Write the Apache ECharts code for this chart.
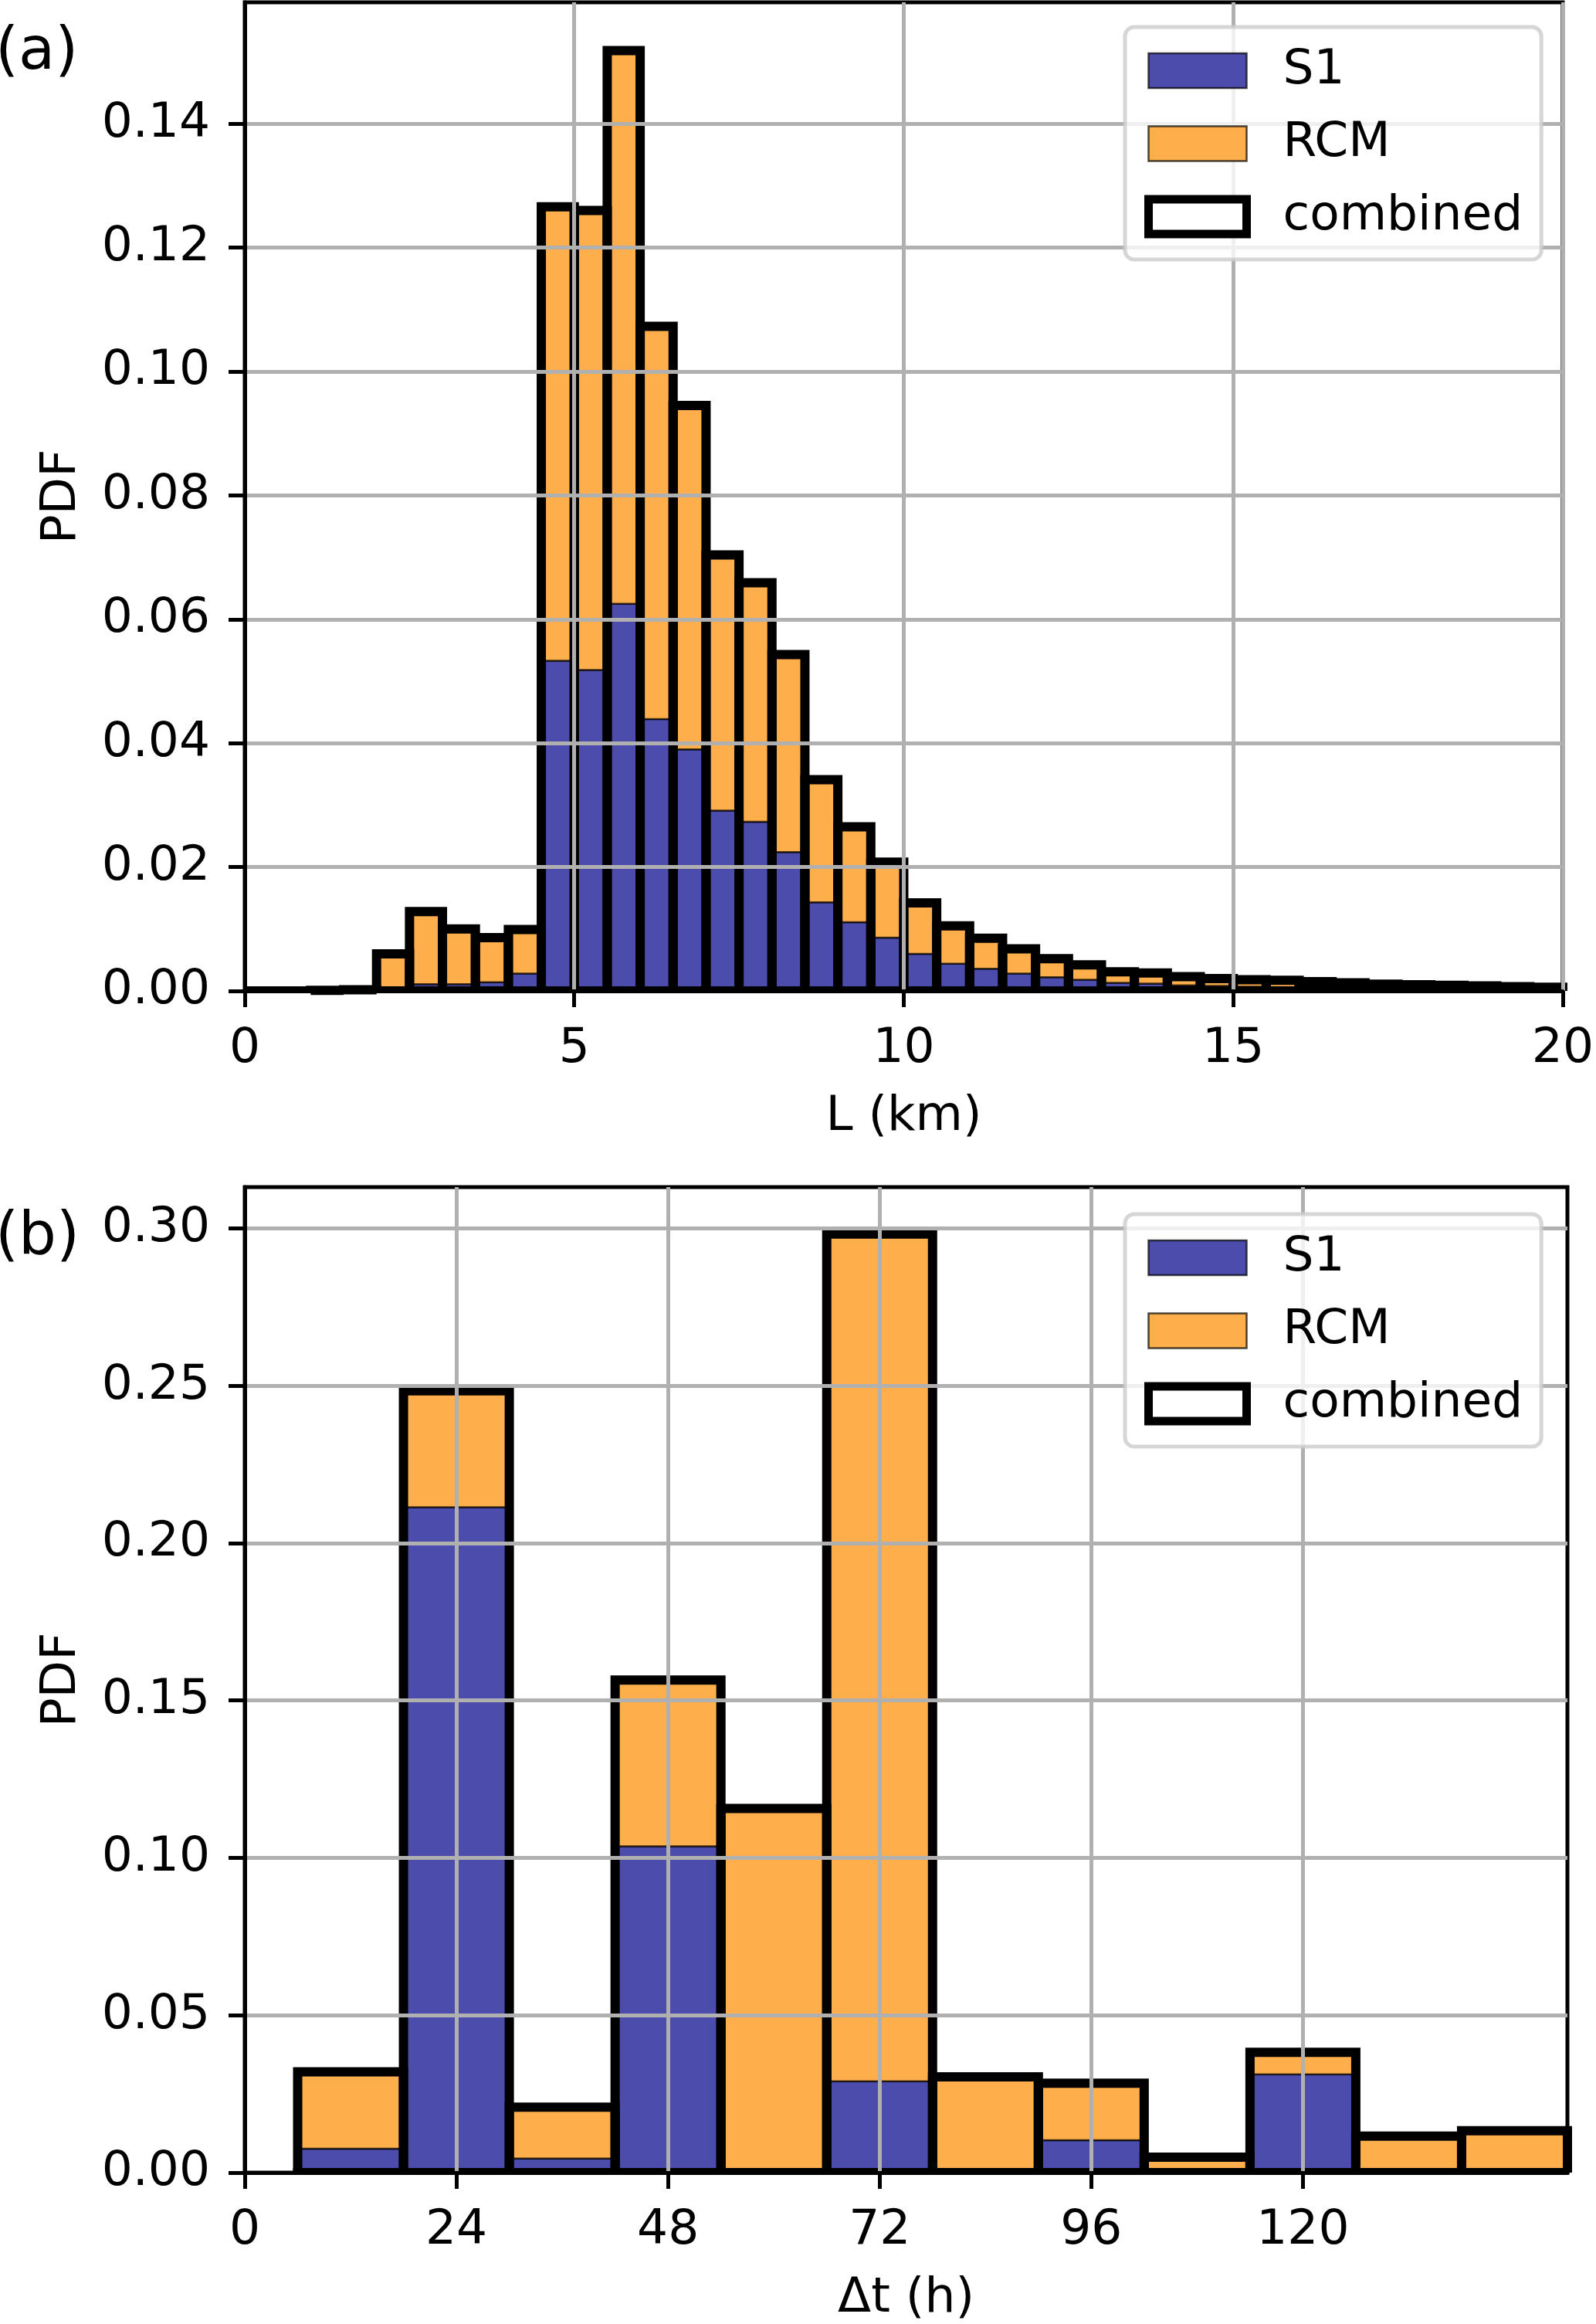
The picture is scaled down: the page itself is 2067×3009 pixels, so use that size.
<!DOCTYPE html>
<html><head><meta charset="utf-8">
<script src="https://cdn.jsdelivr.net/npm/echarts@6/dist/echarts.min.js"></script>
<style>html,body{margin:0;padding:0;background:#fff}#c{width:2067px;height:3009px}</style>
</head><body><div id="c"></div>
<script>
// ---------- Panel (a): eddy size L (km), bins 0.5 km ----------
const lenBinEdges = [0,0.5,1,1.5,2,2.5,3,3.5,4,4.5,5,5.5,6,6.5,7,7.5,8,8.5,9,9.5,10,
  10.5,11,11.5,12,12.5,13,13.5,14,14.5,15,15.5,16,16.5,17,17.5,18,18.5,19,19.5,20];
const lenS1 = [0,0,0,0,0, 0.0011,0.0011,0.0014,0.0028,
  0.0533,0.0518,0.0625,0.0439,0.0390,0.0291,0.0273,0.0224,0.0143,0.0111,0.0086,
  0.0060,0.0044,0.0036,0.0028,0.0022,0.0018,0.0013,0.0012,0.0009,0.0008,
  0.0007,0.0006,0.0006,0.0005,0.0004,0.0004,0.0003,0.0003,0.0003,0.0002];
const lenRCM = [0,0,0.0001,0.0002,0.0060, 0.0117,0.0089,0.0072,0.0071,
  0.0733,0.0742,0.0893,0.0634,0.0555,0.0413,0.0386,0.0319,0.0198,0.0154,0.0122,
  0.0082,0.0061,0.0049,0.0040,0.0030,0.0024,0.0018,0.0017,0.0014,0.0012,
  0.0011,0.0011,0.0009,0.0008,0.0007,0.0006,0.0006,0.0005,0.0004,0.0004];
const lenTicksX = [0,5,10,15,20];
const lenTicksY = [0,0.02,0.04,0.06,0.08,0.10,0.12,0.14];

// ---------- Panel (b): time separation Δt (h), bins 12 h ----------
const dtBinEdges = [6,18,30,42,54,66,78,90,102,114,126,138,150];
const dtS1  = [0.0076,0.2114,0.0045,0.1037,0,0.0290,0,0.0103,0,0.0312,0,0];
const dtRCM = [0.0244,0.0370,0.0163,0.0528,0.1157,0.2692,0.0304,0.0181,0.0049,0.0070,0.0116,0.0133];
const dtTicksX = [0,24,48,72,96,120];
const dtTicksY = [0,0.05,0.10,0.15,0.20,0.25,0.30];

const seriesNames = ['S1','RCM','combined'];

// ---------- styling ----------
const FONT = 'DejaVu Sans';
const FS = 63;
const BLUE = '#4c4cad';
const ORANGE = '#ffae4c';
const EDGE = 'rgba(0,0,0,0.7)';
const OUT_LW = 12;

function fillRenderer(fill) {
  return function (params, api) {
    const a = api.coord([api.value(0), api.value(2)]);
    const b = api.coord([api.value(1), api.value(3)]);
    const h = a[1] - b[1];
    if (h < 0.05) return { type: 'group', children: [] };
    return {
      type: 'rect',
      shape: { x: a[0], y: b[1], width: b[0] - a[0], height: h },
      style: { fill: fill, stroke: EDGE, lineWidth: 2.5 }
    };
  };
}
function outlineRenderer(params, api) {
  const cs = params.coordSys;
  const a = api.coord([api.value(0), 0]);
  const b = api.coord([api.value(1), api.value(3)]);
  const x0 = a[0], x1 = b[0], yb = a[1], yt = b[1];
  const bl = Math.max(cs.x, x0 - OUT_LW / 2), br = Math.min(cs.x + cs.width, x1 + OUT_LW / 2);
  const children = [
    { type: 'rect', shape: { x: bl, y: yb - OUT_LW / 2, width: br - bl, height: OUT_LW / 2 }, style: { fill: '#000' } }
  ];
  if (yb - yt > 0.5) {
    children.push({
      type: 'polyline',
      shape: { points: [[x0, yb], [x0, yt], [x1, yt], [x1, yb]] },
      style: { stroke: '#000', lineWidth: OUT_LW, fill: null, lineJoin: 'miter', lineCap: 'butt' }
    });
  }
  return { type: 'group', children: children };
}

function buildData(edges, s1, rcm) {
  const d1 = [], d2 = [], d3 = [];
  for (let i = 0; i < s1.length; i++) {
    d1.push([edges[i], edges[i + 1], 0, s1[i]]);
    d2.push([edges[i], edges[i + 1], s1[i], s1[i] + rcm[i]]);
    d3.push([edges[i], edges[i + 1], 0, s1[i] + rcm[i]]);
  }
  return [d1, d2, d3];
}
const lenData = buildData(lenBinEdges, lenS1, lenRCM);
const dtData = buildData(dtBinEdges, dtS1, dtRCM);

function makeSeries(data, idx) {
  return [
    { name: seriesNames[0], type: 'custom', xAxisIndex: idx, yAxisIndex: idx, data: data[0],
      encode: { x: [0, 1], y: [2, 3] }, renderItem: fillRenderer(BLUE), itemStyle: { color: BLUE }, z: 2 },
    { name: seriesNames[1], type: 'custom', xAxisIndex: idx, yAxisIndex: idx, data: data[1],
      encode: { x: [0, 1], y: [2, 3] }, renderItem: fillRenderer(ORANGE), itemStyle: { color: ORANGE }, z: 2 },
    { name: seriesNames[2], type: 'custom', xAxisIndex: idx, yAxisIndex: idx, data: data[2],
      encode: { x: [0, 1], y: [2, 3] }, renderItem: outlineRenderer, itemStyle: { color: '#fff' }, z: 2 }
  ];
}

const gridLine = { show: true, lineStyle: { color: '#b0b0b0', width: 5 } };
const axisLine = { show: true, onZero: false, lineStyle: { color: '#000', width: 5 } };
const axisTickBase = { show: true, inside: false, length: 21, lineStyle: { color: '#000', width: 5 } };
const labelBase = { fontFamily: FONT, fontSize: FS, color: '#000' };
const nameStyle = { fontFamily: FONT, fontSize: FS, color: '#000' };

function xAxisDef(idx, min, max, interval, ticks, name) {
  return {
    type: 'value', gridIndex: idx, min: min, max: max, interval: interval, z: 3,
    name: name, nameLocation: 'middle', nameGap: 132, nameTextStyle: nameStyle,
    axisLine: axisLine,
    axisTick: Object.assign({ customValues: ticks }, axisTickBase),
    axisLabel: Object.assign({ customValues: ticks, margin: 44, formatter: v => String(v) }, labelBase),
    splitLine: gridLine
  };
}
function yAxisDef(idx, max, interval, ticks) {
  return {
    type: 'value', gridIndex: idx, min: 0, max: max, interval: interval, z: 3,
    name: 'PDF', nameLocation: 'middle', nameGap: 205, nameTextStyle: nameStyle,
    axisLine: axisLine,
    axisTick: Object.assign({ customValues: ticks }, axisTickBase),
    axisLabel: Object.assign({ customValues: ticks, margin: 45, formatter: v => v.toFixed(2) }, labelBase),
    splitLine: gridLine
  };
}

function legendDef(top) {
  return {
    orient: 'vertical', left: 1457, top: top,
    itemWidth: 127, itemHeight: 45, itemGap: 31.5,
    padding: [25, 24, 24, 25],
    backgroundColor: 'rgba(255,255,255,0.8)',
    borderColor: 'rgba(204,204,204,0.8)', borderWidth: 5, borderRadius: 12,
    textStyle: { fontFamily: FONT, fontSize: FS, color: '#000', lineHeight: 62, padding: [0, 0, 0, 42] },
    selectedMode: false,
    z: 6,
    data: [
      { name: seriesNames[0], icon: 'rect', itemStyle: { color: BLUE, borderColor: EDGE, borderWidth: 2.5 } },
      { name: seriesNames[1], icon: 'rect', itemStyle: { color: ORANGE, borderColor: EDGE, borderWidth: 2.5 } },
      { name: seriesNames[2], icon: 'rect', itemStyle: { color: '#fff', borderColor: '#000', borderWidth: 11 } }
    ]
  };
}

const chart = echarts.init(document.getElementById('c'), null, { renderer: 'canvas' });
chart.setOption({
  animation: false,
  backgroundColor: '#fff',
  grid: [
    { left: 317, top: 3, width: 1713, height: 1280, show: true, borderColor: '#000', borderWidth: 5, backgroundColor: 'transparent' },
    { left: 317, top: 1537, width: 1713, height: 1282, show: true, borderColor: '#000', borderWidth: 5, backgroundColor: 'transparent' }
  ],
  xAxis: [
    xAxisDef(0, 0, 20, 5, lenTicksX, 'L (km)'),
    xAxisDef(1, 0, 150, 24, dtTicksX, 'Δt (h)')
  ],
  yAxis: [
    yAxisDef(0, 0.1596, 0.02, lenTicksY),
    yAxisDef(1, 0.3131, 0.05, dtTicksY)
  ],
  legend: [legendDef(35), legendDef(1572)],
  graphic: [
    { type: 'text', left: -6, top: 62 - 32, style: { text: '(a)', font: '77px "DejaVu Sans"', fill: '#000' }, z: 10 },
    { type: 'text', left: -6, top: 1597 - 33, style: { text: '(b)', font: '77px "DejaVu Sans"', fill: '#000' }, z: 10 }
  ],
  series: makeSeries(lenData, 0).concat(makeSeries(dtData, 1))
});
</script>
</body></html>
